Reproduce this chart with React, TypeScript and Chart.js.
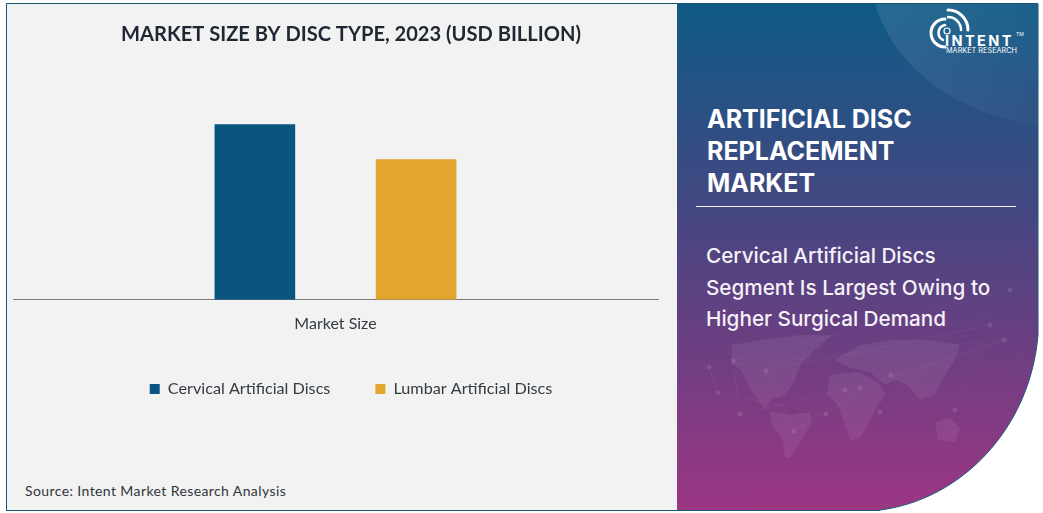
import React, { useEffect, useRef } from "react";
import { Chart, registerables } from "chart.js";

Chart.register(...registerables);

const categories = ["Market Size"];
const cervicalValues = [2.5];
const lumbarValues = [2.0];
const seriesNames = ["Cervical Artificial Discs", "Lumbar Artificial Discs"];
const seriesColors = ["#0a5480", "#e2a52e"];
const chartTitle = "MARKET SIZE BY DISC TYPE, 2023 (USD BILLION)";
const sourceText = "Source: Intent Market Research Analysis";
const headline = ["ARTIFICIAL DISC", "REPLACEMENT", "MARKET"];
const subhead = ["Cervical Artificial Discs", "Segment Is Largest Owing to", "Higher Surgical Demand"];

const abs = (o: React.CSSProperties): React.CSSProperties => ({ position: "absolute", whiteSpace: "nowrap", ...o });
const curve = "M1038 4 V335 C1030 430 960 500 880 510";
const panelPath = "M677 4 H1038 V335 C1030 430 960 500 880 510 H677 Z";

const land = [
  "M732 345 L760 340 L800 335 L832 335 L815 350 L800 365 L795 380 L785 395 L770 400 L765 410 L752 392 L742 372 L732 362 Z",
  "M770 412 L790 415 L810 412 L812 420 L805 435 L795 450 L790 458 L785 458 L783 440 L772 425 Z",
  "M830 375 L860 372 L880 385 L885 395 L875 410 L868 425 L860 438 L850 440 L843 420 L838 405 L827 395 Z",
  "M835 360 L860 345 L890 340 L930 340 L960 345 L955 360 L945 375 L935 395 L920 400 L908 385 L895 380 L885 385 L870 372 L850 368 Z",
  "M935 422 L950 418 L960 428 L955 442 L938 440 Z",
];
const nodes = [[709,367],[733,361],[766,371],[718,393],[740,414],[794,431],[826,414],[845,390],[891,375],[860,388],[880,412],[955,410],[1004,340],[1010,290],[990,325]];

export default function App() {
  const ref = useRef<HTMLCanvasElement>(null);
  useEffect(() => {
    document.body.style.margin = "0";
    document.body.style.background = "#fff";
    const chart = new Chart(ref.current!, {
      type: "bar",
      data: {
        labels: categories,
        datasets: [
          { label: seriesNames[0], data: cervicalValues, backgroundColor: seriesColors[0], barPercentage: 0.5, categoryPercentage: 0.5 },
          { label: seriesNames[1], data: lumbarValues, backgroundColor: seriesColors[1], barPercentage: 0.5, categoryPercentage: 0.5 },
        ],
      },
      options: {
        animation: false,
        responsive: false,
        layout: { padding: { left: 13, right: 13, top: 0, bottom: 106 } },
        plugins: {
          tooltip: { enabled: false },
          title: {
            display: true,
            text: chartTitle,
            color: "#1f2733",
            font: { family: "Lato", size: 20.1, weight: "bold" },
            padding: { top: 22, bottom: 43 },
          },
          legend: {
            display: true,
            position: "bottom",
            labels: {
              boxWidth: 10,
              boxHeight: 10,
              padding: 45,
              color: "#333a40",
              font: { family: "Lato", size: 16.2 },
            },
          },
        },
        scales: {
          x: {
            grid: { display: false, drawTicks: false },
            border: { color: "#7a7a7a", width: 1 },
            ticks: { color: "#333a40", padding: 14, font: { family: "Lato", size: 16 } },
            afterFit: (s: any) => { s.height = 36; },
          },
          y: {
            position: "right",
            min: 0,
            max: 3,
            grid: { display: false },
            border: { display: false },
            ticks: { display: false },
            afterFit: (s: any) => { s.width = 31; },
          },
        },
      },
    });
    return () => chart.destroy();
  }, []);

  return (
    <div style={{ position: "absolute", left: 0, top: 0, width: 1043, height: 513, overflow: "hidden", background: "#fff", fontFamily: "Lato" }}>
      <svg width={1043} height={513} style={{ position: "absolute", left: 0, top: 0 }}>
        <defs>
          <linearGradient id="g" x1="0" y1="4" x2="0" y2="510" gradientUnits="userSpaceOnUse">
            <stop offset="0" stopColor="#0e5a85" />
            <stop offset="0.45" stopColor="#4a4581" />
            <stop offset="1" stopColor="#9c3683" />
          </linearGradient>
          <linearGradient id="h" x1="880" y1="4" x2="1038" y2="130" gradientUnits="userSpaceOnUse">
            <stop offset="0" stopColor="#fff" stopOpacity="0.1" />
            <stop offset="1" stopColor="#fff" stopOpacity="0.02" />
          </linearGradient>
          <clipPath id="c"><path d={panelPath} /></clipPath>
        </defs>
        <rect x={6.5} y={3.5} width={680} height={507} fill="#f2f2f2" stroke="#1d5878" strokeWidth={1} />
        <path d={panelPath} fill="url(#g)" />
        <path d={curve} fill="none" stroke="#1d5878" strokeWidth={1} />
        <line x1={677} y1={3.5} x2={1038} y2={3.5} stroke="#1d5878" />
        <line x1={677} y1={510.5} x2={880} y2={510.5} stroke="#1d5878" />
        <g clipPath="url(#c)">
          <path d="M875 4 C895 70 960 115 1038 125 V4 Z" fill="url(#h)" />
          {land.map((d) => <path key={d} d={d} fill="#fff" opacity={0.07} />)}
          {nodes.map(([x, y], i) => (
            <g key={i}>
              <line x1={x} y1={y} x2={nodes[(i + 3) % nodes.length][0]} y2={nodes[(i + 3) % nodes.length][1]} stroke="#fff" strokeOpacity={0.04} />
              <circle cx={x} cy={y} r={2.5} fill="#fff" opacity={0.1} />
            </g>
          ))}
        </g>
        <g fill="none" stroke="#fff" strokeLinecap="round">
          <path d="M948 10 A20 20 0 0 1 968 30" strokeWidth={3} />
          <path d="M948 17 A13 13 0 0 1 961 30" strokeWidth={2.5} />
          <path d="M945 19 A14 14 0 0 0 945 47" strokeWidth={3} />
          <path d="M945 25 A8 8 0 0 0 943 40" strokeWidth={2.5} />
          <circle cx={947} cy={31} r={3} strokeWidth={1.2} />
        </g>
      </svg>
      <div style={abs({ left: 945, top: 34, fontSize: 14.5, fontWeight: 700, color: "#fff", letterSpacing: 2.4, lineHeight: "14px", fontFamily: "Inter" })}>INTENT</div>
      <div style={abs({ left: 1016, top: 31, fontSize: 5, color: "#fff", fontFamily: "Inter" })}>TM</div>
      <div style={abs({ left: 946, top: 46, fontSize: 7.3, color: "#fff", lineHeight: "9px", fontFamily: "Inter" })}>MARKET RESEARCH</div>
      <div style={abs({ left: 707, top: 103, fontSize: 25, fontWeight: 700, color: "#fff", lineHeight: "32px", fontFamily: "Inter" })}>
        {headline.map((t) => <div key={t}>{t}</div>)}
      </div>
      <div style={abs({ left: 696, top: 206, width: 320, height: 1, background: "#f3f0f6" })} />
      <div style={abs({ left: 706, top: 240, fontSize: 20.7, fontWeight: 500, color: "#f5f1f7", lineHeight: "31.5px", fontFamily: "Inter" })}>
        {subhead.map((t) => <div key={t}>{t}</div>)}
      </div>
      <div style={abs({ left: 25, top: 483, fontSize: 14, letterSpacing: 0.4, color: "#30363c", lineHeight: "16px" })}>{sourceText}</div>
      <canvas ref={ref} width={702} height={513} style={{ position: "absolute", left: 0, top: 0, width: 702, height: 513, pointerEvents: "none" }} />
    </div>
  );
}
